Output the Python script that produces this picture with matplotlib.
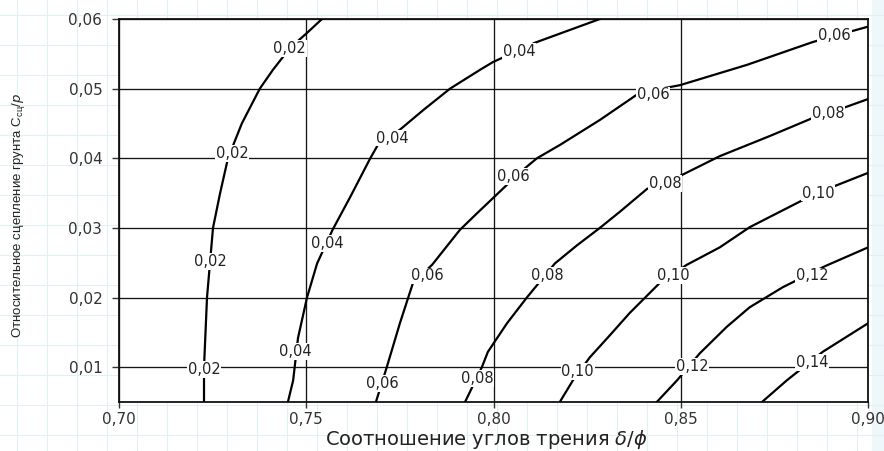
import matplotlib
matplotlib.use('Agg')
import matplotlib.pyplot as plt
from matplotlib.ticker import FuncFormatter

# curve values (delta/phi, C/p), one list per level
c02_x = [0.7227, 0.7227, 0.7235, 0.7251, 0.7270, 0.7291, 0.7328, 0.7376, 0.7411, 0.7456, 0.7502, 0.7542]
c02_y = [0.005, 0.010, 0.020, 0.030, 0.035, 0.040, 0.045, 0.050, 0.0527, 0.0558, 0.058, 0.060]

c04_x = [0.7451, 0.7465, 0.7478, 0.7502, 0.7529, 0.7571, 0.7617, 0.7670, 0.7691, 0.7750, 0.7812,
         0.7884, 0.7964, 0.7998, 0.8111, 0.8284]
c04_y = [0.005, 0.0081, 0.0142, 0.020, 0.0249, 0.0298, 0.0344, 0.0399, 0.0419, 0.0441, 0.0469,
         0.050, 0.0527, 0.0538, 0.0566, 0.060]

c06_x = [0.7686, 0.7715, 0.7750, 0.7785, 0.7836, 0.7873, 0.7910, 0.7956, 0.8001, 0.8044, 0.8078,
         0.8116, 0.8177, 0.8284, 0.8390, 0.8498, 0.8676, 0.8853, 0.9000]
c06_y = [0.005, 0.010, 0.0163, 0.0221, 0.0247, 0.0272, 0.0297, 0.0321, 0.0344, 0.0366, 0.0383,
         0.040, 0.0419, 0.0455, 0.0494, 0.0505, 0.0534, 0.0567, 0.0589]

c08_x = [0.7924, 0.7969, 0.7985, 0.8036, 0.8089, 0.8164, 0.8223, 0.8284, 0.8337, 0.8410,
         0.8492, 0.8604, 0.8738, 0.8853, 0.8943, 0.9000]
c08_y = [0.005, 0.010, 0.0122, 0.0163, 0.020, 0.0249, 0.0275, 0.030, 0.0323, 0.0356,
         0.0373, 0.0403, 0.0432, 0.0458, 0.0474, 0.0485]

c10_x = [0.8177, 0.8212, 0.8257, 0.8311, 0.8364, 0.8444, 0.8516, 0.8604, 0.8684, 0.8826, 0.8906, 0.9000]
c10_y = [0.005, 0.0081, 0.0114, 0.0146, 0.0178, 0.0221, 0.0247, 0.0272, 0.0301, 0.0340, 0.0359, 0.0379]

c12_x = [0.8436, 0.8490, 0.8551, 0.8623, 0.8684, 0.8773, 0.8885, 0.9000]
c12_y = [0.005, 0.0081, 0.0120, 0.0158, 0.0186, 0.0215, 0.0245, 0.0272]

c14_x = [0.8717, 0.8783, 0.8879, 0.9000]
c14_y = [0.005, 0.0081, 0.0122, 0.0163]

# where the level labels sit on each curve
lab02_x = [0.7456, 0.7302, 0.7243, 0.7227]
lab02_y = [0.0558, 0.0407, 0.0252, 0.0097]
lab04_x = [0.8068, 0.7729, 0.7555, 0.7470]
lab04_y = [0.0553, 0.0429, 0.0278, 0.0123]
lab06_x = [0.8911, 0.8426, 0.8052, 0.7822, 0.7702]
lab06_y = [0.0577, 0.0491, 0.0374, 0.0231, 0.0077]
lab08_x = [0.8893, 0.8458, 0.8143, 0.7956]
lab08_y = [0.0465, 0.0364, 0.0232, 0.0084]
lab10_x = [0.8866, 0.8479, 0.8225]
lab10_y = [0.0350, 0.0232, 0.0094]
lab12_x = [0.8850, 0.8530]
lab12_y = [0.0231, 0.0101]
lab14_x = [0.8850]
lab14_y = [0.0107]

levels = ['0,02', '0,04', '0,06', '0,08', '0,10', '0,12', '0,14']
curves = [(c02_x, c02_y), (c04_x, c04_y), (c06_x, c06_y), (c08_x, c08_y),
          (c10_x, c10_y), (c12_x, c12_y), (c14_x, c14_y)]
labels = [(lab02_x, lab02_y), (lab04_x, lab04_y), (lab06_x, lab06_y), (lab08_x, lab08_y),
          (lab10_x, lab10_y), (lab12_x, lab12_y), (lab14_x, lab14_y)]

x_ticks = [0.70, 0.75, 0.80, 0.85, 0.90]
y_ticks = [0.01, 0.02, 0.03, 0.04, 0.05, 0.06]

plt.rcParams['font.family'] = ['DejaVu Sans']

fig = plt.figure(figsize=(8.84, 4.51), dpi=100)

# faint graph-paper background
bg = fig.add_axes([0, 0, 1, 1], zorder=-5)
bg.set_xlim(0, 884)
bg.set_ylim(451, 0)
bg.axis('off')
bg.axvspan(872, 884, color='#eef7fa', lw=0)
for gx in range(17, 884, 30):
    bg.axvline(gx, color='#e3f0f3', lw=0.8)
for gy in range(15, 451, 30):
    bg.axhline(gy, color='#e3f0f3', lw=0.8)

ax = fig.add_axes([119 / 884, 49 / 451, 749 / 884, 383 / 451])
ax.set_facecolor('white')

for (cx, cy) in curves:
    ax.plot(cx, cy, color='black', lw=1.6, zorder=3, solid_joinstyle='round')

for lev, (lx, ly) in zip(levels, labels):
    for px, py in zip(lx, ly):
        ax.text(px, py, lev, ha='center', va='center', fontsize=10.5, color='#222222',
                bbox=dict(fc='white', ec='none', pad=0.6), zorder=4)

ax.set_xlim(0.70, 0.90)
ax.set_ylim(0.005, 0.06)
ax.set_xticks(x_ticks)
ax.set_yticks(y_ticks)
comma = FuncFormatter(lambda v, pos: f'{v:.2f}'.replace('.', ','))
ax.xaxis.set_major_formatter(comma)
ax.yaxis.set_major_formatter(comma)
ax.grid(True, color='#151515', lw=0.95, zorder=1)
ax.set_axisbelow(True)
ax.tick_params(axis='x', length=4, width=1, pad=3, labelsize=11, colors='#333333')
ax.tick_params(axis='y', length=5, width=1, pad=7, labelsize=11, colors='#333333')
for s in ax.spines.values():
    s.set_linewidth(1.3)
    s.set_color('#111111')

ax.set_xlabel('Соотношение углов трения $\\delta/\\phi$', fontsize=14, color='#222222')
ax.xaxis.set_label_coords(0.49, -0.098)
ax.xaxis.label.set_va('center')

ax.set_ylabel('Относительное сцепление грунта C$_{\\mathregular{сц}}$/$p$', fontsize=9.5,
              color='#222222', family=['Liberation Sans', 'DejaVu Sans'])
ax.yaxis.set_label_coords(-0.134, 0.486)
ax.yaxis.label.set_va('center')

fig.savefig('out.png', dpi=100)
